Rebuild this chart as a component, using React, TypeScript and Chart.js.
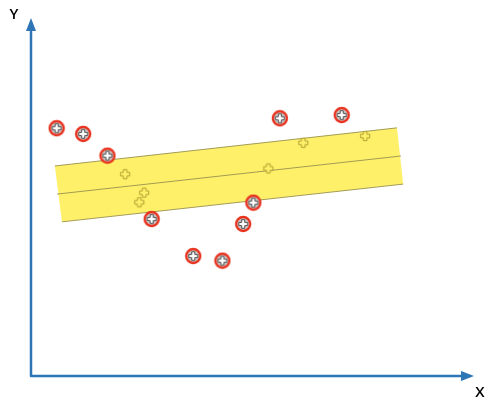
import React, { useEffect, useRef } from "react";
import { Chart, registerables } from "chart.js";
Chart.register(...registerables);

// Data (arbitrary units, 0..100 on both axes)
const outlierX = [5.8, 11.8, 17.3, 27.3, 50.3, 48.0, 36.7, 43.3, 56.3, 70.3];
const outlierY = [69.6, 68.0, 61.9, 44.1, 48.7, 42.7, 33.7, 32.4, 72.4, 73.3];
const inlierX = [21.3, 25.6, 24.5, 53.7, 61.6, 75.6];
const inlierY = [56.7, 51.5, 48.8, 58.3, 65.5, 67.4];
const bandX = [5.4, 82.8, 84.2, 7.0, 5.4];
const bandY = [59.0, 69.7, 53.9, 43.3, 59.0];
const upperX = [5.4, 82.8];
const upperY = [59.0, 69.7];
const lowerX = [7.0, 84.2];
const lowerY = [43.3, 53.9];
const centerX = [5.9, 83.7];
const centerY = [51.1, 61.8];
const axisLabelX = "X";
const axisLabelY = "Y";

const zip = (xs: number[], ys: number[]) => xs.map((x, i) => ({ x, y: ys[i] }));

function plusPath(ctx: CanvasRenderingContext2D, cx: number, cy: number, w: number, l: number) {
  ctx.beginPath();
  ctx.moveTo(cx - w, cy - l);
  ctx.lineTo(cx + w, cy - l);
  ctx.lineTo(cx + w, cy - w);
  ctx.lineTo(cx + l, cy - w);
  ctx.lineTo(cx + l, cy + w);
  ctx.lineTo(cx + w, cy + w);
  ctx.lineTo(cx + w, cy + l);
  ctx.lineTo(cx - w, cy + l);
  ctx.lineTo(cx - w, cy + w);
  ctx.lineTo(cx - l, cy + w);
  ctx.lineTo(cx - l, cy - w);
  ctx.lineTo(cx - w, cy - w);
  ctx.closePath();
}

function makeOutlierMarker() {
  const c = document.createElement("canvas");
  c.width = 18;
  c.height = 18;
  const ctx = c.getContext("2d")!;
  ctx.beginPath();
  ctx.arc(9, 9, 7, 0, Math.PI * 2);
  ctx.fillStyle = "#cfcfcf";
  ctx.fill();
  ctx.lineWidth = 2.4;
  ctx.strokeStyle = "#e8321e";
  ctx.stroke();
  plusPath(ctx, 9, 9, 1.6, 4.3);
  ctx.fillStyle = "#ffffff";
  ctx.fill();
  ctx.lineWidth = 1;
  ctx.strokeStyle = "#4a4a4a";
  ctx.stroke();
  return c;
}

function makeInlierMarker() {
  const c = document.createElement("canvas");
  c.width = 14;
  c.height = 14;
  const ctx = c.getContext("2d")!;
  plusPath(ctx, 7, 7, 1.8, 4.6);
  ctx.fillStyle = "#fff06a";
  ctx.fill();
  ctx.lineWidth = 1;
  ctx.strokeStyle = "#b0a030";
  ctx.stroke();
  return c;
}

const axesPlugin = {
  id: "arrowAxes",
  afterDatasetsDraw(chart: any) {
    const { ctx, chartArea, scales } = chart;
    const x0 = scales.x.getPixelForValue(0);
    const y0 = scales.y.getPixelForValue(0);
    const blue = "#2e75b6";
    ctx.save();
    ctx.strokeStyle = blue;
    ctx.fillStyle = blue;
    ctx.lineWidth = 2.5;
    ctx.lineJoin = "round";
    ctx.beginPath();
    ctx.moveTo(x0, chartArea.top + 10);
    ctx.lineTo(x0, y0);
    ctx.lineTo(chartArea.right - 10, y0);
    ctx.stroke();
    // Y arrow
    ctx.beginPath();
    ctx.moveTo(x0, chartArea.top - 2);
    ctx.lineTo(x0 - 5, chartArea.top + 11);
    ctx.lineTo(x0 + 5, chartArea.top + 11);
    ctx.closePath();
    ctx.fill();
    // X arrow
    ctx.beginPath();
    ctx.moveTo(chartArea.right + 1, y0);
    ctx.lineTo(chartArea.right - 12, y0 - 5);
    ctx.lineTo(chartArea.right - 12, y0 + 5);
    ctx.closePath();
    ctx.fill();
    // labels
    ctx.fillStyle = "#000000";
    ctx.font = "600 15px 'Open Sans', 'Liberation Sans', sans-serif";
    ctx.textAlign = "center";
    ctx.textBaseline = "middle";
    ctx.fillText(axisLabelY, x0 - 17, chartArea.top - 5);
    ctx.fillText(axisLabelX, chartArea.right + 7, y0 + 17);
    ctx.restore();
  },
};

export default function App() {
  const ref = useRef<HTMLCanvasElement | null>(null);
  useEffect(() => {
    if (!ref.current) return;
    const outlierMarker = makeOutlierMarker();
    const inlierMarker = makeInlierMarker();
    const edge = "#a39c55";
    const chart = new Chart(ref.current, {
      type: "scatter",
      data: {
        datasets: [
          {
            data: zip(outlierX, outlierY),
            pointStyle: outlierMarker as any,
            pointRadius: 9,
            order: 0,
          },
          {
            data: zip(inlierX, inlierY),
            pointStyle: inlierMarker as any,
            pointRadius: 7,
            order: 1,
          },
          {
            data: zip(centerX, centerY),
            showLine: true,
            borderColor: edge,
            borderWidth: 1,
            pointRadius: 0,
            order: 2,
          },
          {
            data: zip(upperX, upperY),
            showLine: true,
            borderColor: edge,
            borderWidth: 1,
            pointRadius: 0,
            order: 2,
          },
          {
            data: zip(lowerX, lowerY),
            showLine: true,
            borderColor: edge,
            borderWidth: 1,
            pointRadius: 0,
            order: 2,
          },
          {
            data: zip(bandX, bandY),
            showLine: true,
            fill: "shape",
            backgroundColor: "#fff06a",
            borderColor: "rgba(0,0,0,0)",
            borderWidth: 0,
            pointRadius: 0,
            order: 3,
          } as any,
        ],
      },
      options: {
        animation: false,
        responsive: false,
        maintainAspectRatio: false,
        layout: { padding: { left: 31, right: 31, top: 20, bottom: 32 } },
        scales: {
          x: { type: "linear", min: 0, max: 100, display: false },
          y: { type: "linear", min: 0, max: 100, display: false },
        },
        plugins: {
          legend: { display: false },
          tooltip: { enabled: false },
        },
      },
      plugins: [axesPlugin],
    });
    return () => chart.destroy();
  }, []);
  return (
    <div style={{ position: "absolute", left: 0, top: 0, width: 504, height: 408, background: "#fff" }}>
      <canvas ref={ref} width={504} height={408} style={{ display: "block" }} />
    </div>
  );
}
